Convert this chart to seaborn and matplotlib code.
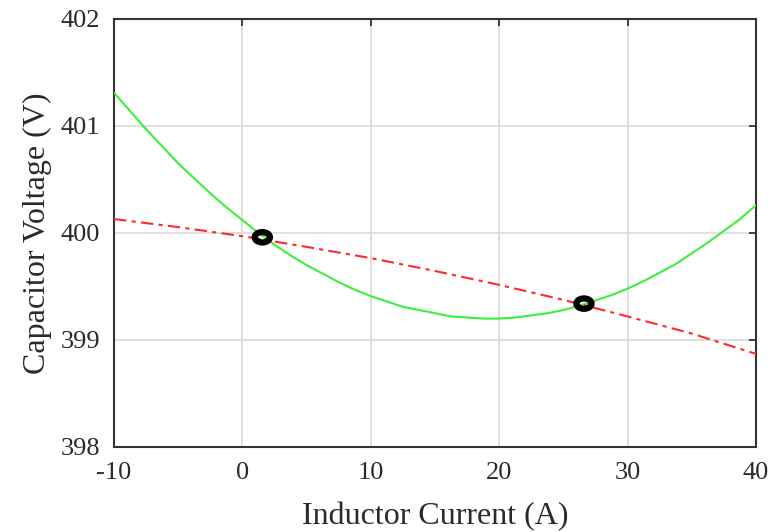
import numpy as np
import pandas as pd
import seaborn as sns
import matplotlib.pyplot as plt
from matplotlib.path import Path
from matplotlib.transforms import Affine2D

# green curve: capacitor voltage vs inductor current
green_current = [-10, -8.75, -7.5, -6.25, -5, -3.75, -2.5, -1.25, 0, 1.25, 2.5,
                 3.75, 5, 6.25, 7.5, 8.75, 10, 11.25, 12.5, 13.75, 15, 16.25,
                 17.5, 18.75, 20, 21.25, 22.5, 23.75, 25, 26.25, 27.5, 28.75,
                 30, 31.25, 32.5, 33.75, 35, 36.25, 37.5, 38.75, 40]
green_voltage = [401.31, 401.14, 400.97, 400.81, 400.65, 400.51, 400.37, 400.24,
                 400.12, 400.00, 399.89, 399.79, 399.70, 399.62, 399.54, 399.47,
                 399.41, 399.36, 399.31, 399.28, 399.25, 399.22, 399.21, 399.20,
                 399.20, 399.21, 399.23, 399.25, 399.28, 399.32, 399.37, 399.42,
                 399.48, 399.55, 399.63, 399.71, 399.81, 399.91, 400.02, 400.13,
                 400.26]

# red dash-dot curve
red_current = [-10, -5, 0, 5, 10, 15, 20, 25, 30, 35, 40]
red_voltage = [400.13, 400.055, 399.97, 399.87, 399.765, 399.645, 399.515,
               399.375, 399.22, 399.06, 398.87]

# intersection points
pts_current = [1.55, 26.6]
pts_voltage = [399.96, 399.34]

x_ticks = [-10, 0, 10, 20, 30, 40]
y_ticks = [398, 399, 400, 401, 402]

sns.set_theme(style="white")
plt.rcParams['font.family'] = ['Liberation Serif', 'DejaVu Serif']
plt.rcParams['axes.unicode_minus'] = False
text_col = "#2a2a2a"

fig = plt.figure(figsize=(7.72, 5.32), dpi=100)
ax = fig.add_axes([0.1477, 0.1598, 0.8316, 0.8045])

green_df = pd.DataFrame({"I": green_current, "V": green_voltage})
red_df = pd.DataFrame({"I": red_current, "V": red_voltage})
pts_df = pd.DataFrame({"I": pts_current, "V": pts_voltage})

sns.lineplot(data=green_df, x="I", y="V", ax=ax, color="#3cf03c", linewidth=1.5,
             sort=False, zorder=3)
sns.lineplot(data=red_df, x="I", y="V", ax=ax, color="#ff2a2a", linewidth=1.5,
             sort=False, dashes=False, zorder=3)
ax.lines[-1].set_dashes((6, 2.5, 2, 2.5))

# flattened ellipse marker
ell = Path(Affine2D().scale(1, 0.68).transform(Path.unit_circle().vertices),
           Path.unit_circle().codes)
sns.scatterplot(data=pts_df, x="I", y="V", ax=ax, marker=ell, s=120, zorder=4)
coll = ax.collections[-1]
coll.set_facecolor("none")
coll.set_edgecolor("black")
coll.set_linewidth(4.5)

ax.set_xlim(-10, 40)
ax.set_ylim(398, 402)
ax.set_xticks(x_ticks)
ax.set_yticks(y_ticks)
ax.grid(True, color="#dcdcdc", linewidth=1.3, zorder=0)
ax.set_axisbelow(True)
ax.tick_params(direction="in", length=5, width=1.3, color="#333333",
               top=True, right=True, labelsize=19, labelcolor=text_col)
ax.tick_params(axis="x", pad=11)
ax.tick_params(axis="y", pad=10)
for sp in ax.spines.values():
    sp.set_color("#333333")
    sp.set_linewidth(1.5)

ax.set_xlabel("Inductor Current (A)", fontsize=23, color=text_col, labelpad=13)
ax.set_ylabel("Capacitor Voltage (V)", fontsize=23, color=text_col, labelpad=6)

fig.savefig("out.png", dpi=100)
